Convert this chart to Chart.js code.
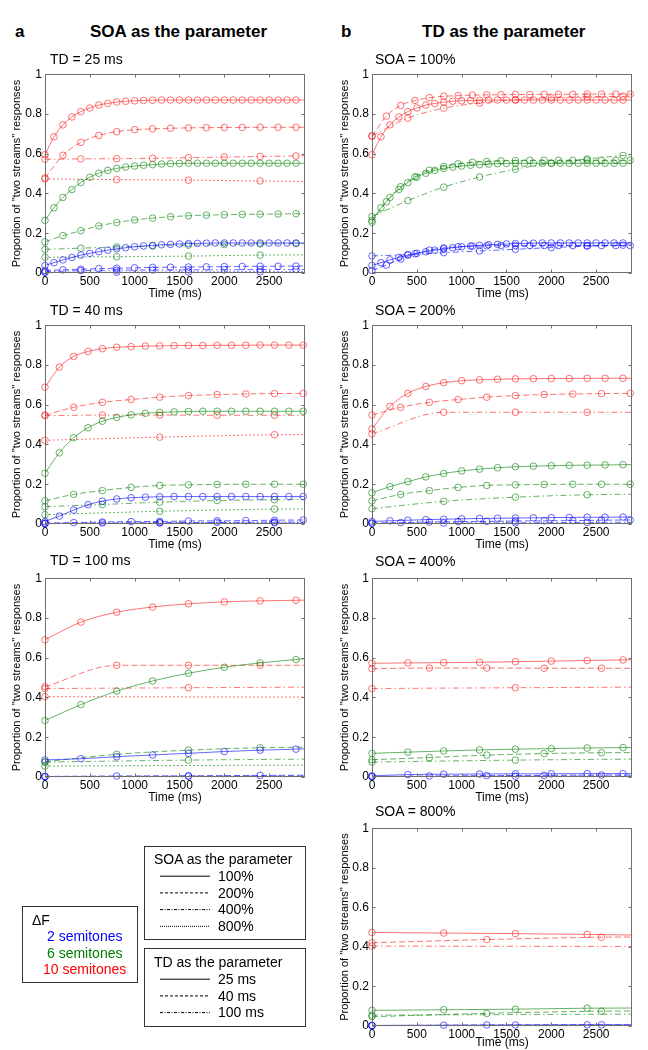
<!DOCTYPE html>
<html>
<head>
<meta charset="utf-8">
<script src="https://cdn.jsdelivr.net/npm/chart.js@4.4.1/dist/chart.umd.min.js"></script>
<style>
  body { margin: 0; background: #fff; font-family: Arial, "Liberation Sans", sans-serif; }
  #page { position: relative; width: 648px; height: 1050px; overflow: hidden; }
  #page canvas { position: absolute; }
  .t { position: absolute; white-space: nowrap; color: #000; line-height: 1; }
  .head { font-weight: bold; font-size: 17px; }
  .ptitle { font-size: 14px; }
  .leg { font-size: 14px; }
  .box { position: absolute; border: 1px solid #333; box-sizing: border-box; }
</style>
</head>
<body>
<div id="page"></div>
<script>
// ── Données ─────────────────────────────────────────
const xMax = 2900;
const xTicks = [0, 500, 1000, 1500, 2000, 2500];
const yTicks = [0, 0.2, 0.4, 0.6, 0.8, 1];
const tdList = [25, 40, 100];            // tone duration, ms
const soaList = [100, 200, 400, 800];    // SOA, % of TD
const dfLabels = ['2 semitones', '6 semitones', '10 semitones'];
const dfColors = ['rgba(0,0,255,0.6)', 'rgba(0,128,0,0.6)', 'rgba(255,0,0,0.55)'];
const dfText = ['#0000ff', '#008000', '#ff0000'];

// one row per SOA (100, 200, 400, 800 %), one point every 4 SOAs
const td25Blue = [
  [0.038,0.052,0.066,0.078,0.090,0.099,0.107,0.115,0.122,0.127,0.132,0.136,0.139,0.142,0.144,0.146,0.148,0.149,0.150,0.151,0.151,0.151,0.151,0.151,0.151,0.151,0.151,0.151,0.151],
  [0.013,0.016,0.019,0.022,0.024,0.026,0.028,0.029,0.030,0.031,0.032,0.033,0.034,0.034,0.035],
  [0.006,0.012,0.014,0.015,0.016,0.016,0.017,0.017],
  [0.003,0.004,0.005,0.006]
];
const td25Green = [
  [0.265,0.328,0.380,0.420,0.455,0.482,0.502,0.516,0.526,0.533,0.538,0.542,0.545,0.548,0.550,0.551,0.552,0.552,0.552,0.552,0.552,0.552,0.552,0.552,0.552,0.552,0.552,0.552,0.552],
  [0.157,0.188,0.213,0.237,0.254,0.267,0.276,0.283,0.288,0.291,0.293,0.295,0.296,0.297,0.298],
  [0.119,0.125,0.131,0.136,0.140,0.143,0.146,0.148],
  [0.079,0.082,0.085,0.090]
];
const td25Red = [
  [0.595,0.685,0.745,0.785,0.812,0.830,0.845,0.853,0.860,0.864,0.866,0.868,0.869,0.870,0.870,0.870,0.870,0.870,0.870,0.870,0.870,0.870,0.870,0.870,0.870,0.870,0.870,0.870,0.870],
  [0.478,0.592,0.657,0.692,0.711,0.721,0.725,0.728,0.730,0.731,0.732,0.732,0.733,0.733,0.733],
  [0.572,0.574,0.575,0.577,0.580,0.583,0.586,0.589],
  [0.473,0.470,0.467,0.463]
];
const td40Blue = [
  [0.013,0.040,0.070,0.097,0.115,0.126,0.132,0.135,0.137,0.138,0.138,0.138,0.138,0.138,0.138,0.138,0.138,0.138,0.138],
  [0.005,0.007,0.010,0.012,0.013,0.015,0.016,0.017,0.019,0.020],
  [0.002,0.005,0.007,0.008,0.010],
  [0.002,0.005,0.006]
];
const td40Green = [
  [0.255,0.358,0.434,0.484,0.517,0.536,0.549,0.557,0.561,0.564,0.566,0.567,0.567,0.567,0.567,0.567,0.567,0.567,0.567],
  [0.116,0.149,0.168,0.184,0.194,0.197,0.199,0.200,0.200,0.200],
  [0.087,0.098,0.110,0.118,0.122],
  [0.047,0.064,0.075]
];
const td40Red = [
  [0.688,0.789,0.843,0.868,0.882,0.889,0.892,0.895,0.896,0.897,0.898,0.898,0.899,0.899,0.899,0.900,0.900,0.900,0.900],
  [0.548,0.587,0.612,0.626,0.638,0.646,0.651,0.654,0.656,0.657],
  [0.545,0.548,0.548,0.547,0.547],
  [0.421,0.437,0.449]
];
const td100Blue = [
  [0.086,0.092,0.102,0.111,0.119,0.128,0.135,0.140],
  [0.003,0.005,0.006,0.008],
  [0.002,0.004],
  [0.002]
];
const td100Green = [
  [0.284,0.364,0.432,0.483,0.522,0.552,0.574,0.591],
  [0.077,0.114,0.135,0.147],
  [0.075,0.085],
  [0.055]
];
const td100Red = [
  [0.690,0.779,0.829,0.855,0.871,0.881,0.886,0.889],
  [0.454,0.562,0.562,0.562],
  [0.445,0.449],
  [0.404]
];
// fitted curve at the right edge (2900 ms): [blue, green, red] x SOA
const td25Tail  = [[0.151,0.035,0.017,0.006],[0.552,0.299,0.149,0.091],[0.870,0.733,0.590,0.460]];
const td40Tail  = [[0.138,0.020,0.010,0.006],[0.567,0.200,0.123,0.076],[0.900,0.657,0.547,0.450]];
const td100Tail = [[0.142,0.009,0.005,0.002],[0.595,0.150,0.090,0.060],[0.890,0.562,0.452,0.402]];

const tdData = { 25: [td25Blue, td25Green, td25Red], 40: [td40Blue, td40Green, td40Red], 100: [td100Blue, td100Green, td100Red] };
const tdTail = { 25: td25Tail, 40: td40Tail, 100: td100Tail };

// ── Styles de trait ─────────────────────────────────
const soaDash = [[], [6, 3], [6, 3, 1.5, 3], [2, 2]];
const tdDash  = [[], [6, 3], [6, 3, 1.5, 3]];
const soaLegDash = [[], [3, 2], [3, 1.5, 1, 1.5], [1, 1]];
const tdLegDash  = [[], [3, 2], [3, 1.5, 1, 1.5]];

const page = document.getElementById('page');
Chart.defaults.font.family = 'Arial, "Liberation Sans", sans-serif';
Chart.defaults.font.size = 12;
Chart.defaults.color = '#000';

function addText(txt, left, cy, cls, size, color) {
  const d = document.createElement('div');
  d.className = 't ' + cls;
  d.textContent = txt;
  d.style.left = left + 'px';
  d.style.top = (cy - 0.49 * size) + 'px';
  if (color) d.style.color = color;
  page.appendChild(d);
  return d;
}

function makeSeries(td, df, s, dash) {
  const vals = tdData[td][df][s];
  const step = 4 * td * soaList[s] / 100;
  const n = vals.length;
  const pts = vals.map((v, i) => ({ x: i * step, y: v }));
  pts.push({ x: xMax, y: tdTail[td][df][s] });
  return {
    data: pts,
    borderColor: dfColors[df],
    pointBorderColor: dfColors[df],
    pointBackgroundColor: 'rgba(0,0,0,0)',
    borderWidth: 1,
    borderDash: dash,
    pointRadius: ctx => ctx.dataIndex < n ? 3.3 : 0,
    pointBorderWidth: 1,
    cubicInterpolationMode: 'monotone',
    fill: false,
    clip: false
  };
}

// boîte et graduations intérieures façon MATLAB
const boxPlugin = {
  id: 'matlabBox',
  afterDraw(chart) {
    const { ctx, chartArea: a, scales: { x, y } } = chart;
    ctx.save();
    ctx.strokeStyle = '#6e6e6e';
    ctx.lineWidth = 1;
    const l = Math.round(a.left) + 0.5, r = Math.round(a.right) - 0.5;
    const t = Math.round(a.top) + 0.5, b = Math.round(a.bottom) - 0.5;
    ctx.strokeRect(l, t, r - l, b - t);
    ctx.beginPath();
    x.ticks.forEach(tk => {
      const px = Math.round(x.getPixelForValue(tk.value)) + 0.5;
      ctx.moveTo(px, b); ctx.lineTo(px, b - 3);
      ctx.moveTo(px, t); ctx.lineTo(px, t + 3);
    });
    y.ticks.forEach(tk => {
      const py = Math.round(y.getPixelForValue(tk.value)) + 0.5;
      ctx.moveTo(l, py); ctx.lineTo(l + 3, py);
      ctx.moveTo(r, py); ctx.lineTo(r - 3, py);
    });
    ctx.stroke();
    ctx.restore();
  }
};

function makePanel(left, plotTop, plotH, xAxisH, yAxisW, yTitlePad, datasets) {
  const plotW = 260;
  const cv = document.createElement('canvas');
  const w = yAxisW + plotW + 5, h = 5 + plotH + xAxisH;
  cv.width = w; cv.height = h;
  cv.style.left = left + 'px';
  cv.style.top = (plotTop - 5) + 'px';
  cv.style.width = w + 'px'; cv.style.height = h + 'px';
  page.appendChild(cv);
  new Chart(cv, {
    type: 'line',
    data: { datasets },
    plugins: [boxPlugin],
    options: {
      responsive: false,
      animation: false,
      devicePixelRatio: 1,
      layout: { padding: { top: 5, right: 5, left: 0, bottom: 0 } },
      plugins: { legend: { display: false }, tooltip: { enabled: false } },
      scales: {
        x: {
          type: 'linear', min: 0, max: xMax,
          grid: { display: false, drawTicks: false },
          border: { display: false },
          afterBuildTicks: s => { s.ticks = xTicks.map(v => ({ value: v })); },
          afterFit: s => { s.height = xAxisH; },
          ticks: { autoSkip: false, maxRotation: 0, padding: 1, font: { size: 12 }, callback: v => String(v) },
          title: { display: true, text: 'Time (ms)', font: { size: 12 }, padding: { top: 0, bottom: 2 } }
        },
        y: {
          type: 'linear', min: 0, max: 1,
          grid: { display: false, drawTicks: false },
          border: { display: false },
          afterBuildTicks: s => { s.ticks = yTicks.map(v => ({ value: v })); },
          afterFit: s => { s.width = yAxisW; },
          ticks: { padding: 3, font: { size: 12 }, callback: v => String(v) },
          title: { display: true, text: "Proportion of ''two streams'' responses", font: { size: 11 }, padding: { top: yTitlePad, bottom: 0 } }
        }
      }
    }
  });
}

// ── En-têtes ────────────────────────────────────────
addText('a', 15, 31, 'head', 17);
addText('SOA as the parameter', 90, 31, 'head', 17);
addText('b', 341, 31, 'head', 17);
addText('TD as the parameter', 422, 31, 'head', 17);

// ── Colonne a : TD fixe, SOA en paramètre ──────────
const leftTops = [69, 320, 573];
const leftTitleY = [59, 309.5, 559.5];
tdList.forEach((td, k) => {
  const ds = [];
  [0, 1, 2].forEach(df => soaList.forEach((soa, s) => ds.push(makeSeries(td, df, s, soaDash[s]))));
  makePanel(0, leftTops[k], 204, 30, 45, 10.4, ds);
  addText('TD = ' + td + ' ms', 50, leftTitleY[k], 'ptitle', 14);
});

// ── Colonne b : SOA fixe, TD en paramètre ──────────
const rightTops = [69, 320, 573, 823];
const rightH = [204, 204, 204, 203];
const rightAxisH = [30, 30, 30, 26];
const rightTitleY = [59, 310, 560.5, 811];
soaList.forEach((soa, s) => {
  const ds = [];
  [0, 1, 2].forEach(df => tdList.forEach((td, k) => ds.push(makeSeries(td, df, s, tdDash[k]))));
  makePanel(326, rightTops[s], rightH[s], rightAxisH[s], 46, 12.4, ds);
  addText('SOA = ' + soa + '%', 375, rightTitleY[s], 'ptitle', 14);
});

// ── Légendes ────────────────────────────────────────
function addBox(left, top, w, h) {
  const b = document.createElement('div');
  b.className = 'box';
  Object.assign(b.style, { left: left + 'px', top: top + 'px', width: w + 'px', height: h + 'px' });
  page.appendChild(b);
}
const svgNS = 'http://www.w3.org/2000/svg';
const svg = document.createElementNS(svgNS, 'svg');
svg.setAttribute('width', 648); svg.setAttribute('height', 1050);
svg.style.position = 'absolute'; svg.style.left = '0'; svg.style.top = '0';
page.appendChild(svg);
function legLine(y, dash) {
  const ln = document.createElementNS(svgNS, 'line');
  ln.setAttribute('x1', 160); ln.setAttribute('x2', 210);
  ln.setAttribute('y1', y + 0.5); ln.setAttribute('y2', y + 0.5);
  ln.setAttribute('stroke', '#000'); ln.setAttribute('stroke-width', 1);
  if (dash.length) ln.setAttribute('stroke-dasharray', dash.join(' '));
  svg.appendChild(ln);
}

addBox(22, 906, 116, 77);
addText('\u0394F', 32, 920, 'leg', 14);
dfLabels.forEach((lab, i) => addText(lab, i === 2 ? 43 : 47, 936 + i * 16.6, 'leg', 14, dfText[i]));

addBox(144, 846, 162, 94);
addText('SOA as the parameter', 154, 859, 'leg', 14);
soaList.forEach((soa, s) => {
  const cy = 875.7 + s * 16.7;
  legLine(cy, soaLegDash[s]);
  addText(soa + '%', 218, cy, 'leg', 14);
});

addBox(144, 948, 162, 79);
addText('TD as the parameter', 154, 962, 'leg', 14);
tdList.forEach((td, k) => {
  const cy = 978.7 + k * 16.7;
  legLine(cy, tdLegDash[k]);
  addText(td + ' ms', 218, cy, 'leg', 14);
});
</script>
</body>
</html>
